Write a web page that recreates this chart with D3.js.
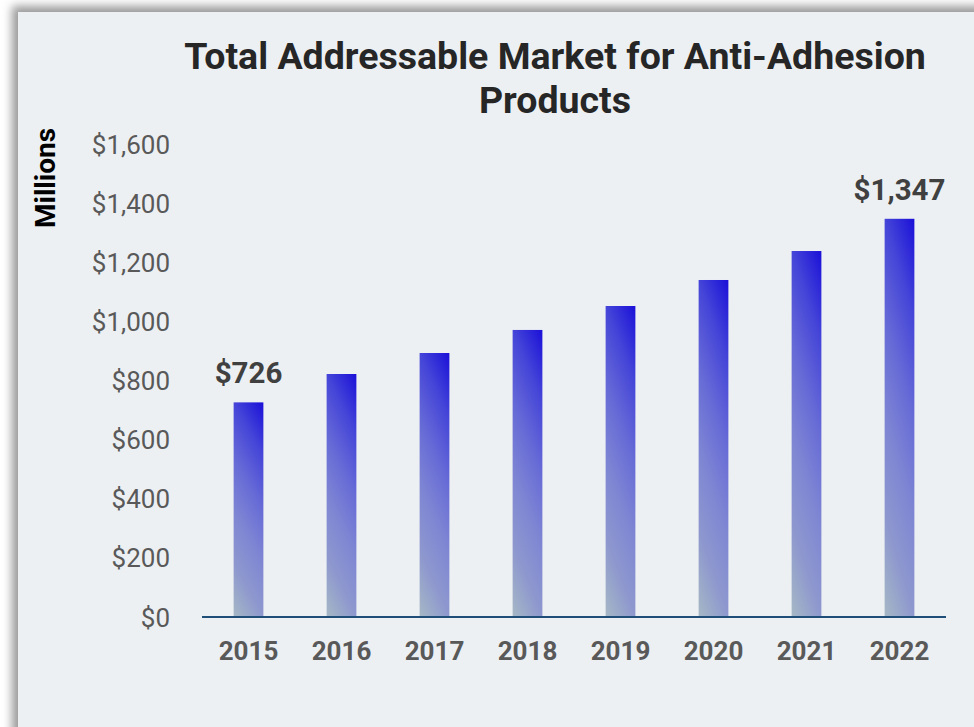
<!DOCTYPE html>
<html>
<head>
<meta charset="utf-8">
<script src="https://cdn.jsdelivr.net/npm/d3@7"></script>
<style>
  html, body { margin: 0; padding: 0; background: #ffffff; }
  svg { display: block; font-family: Roboto, "Noto Sans", sans-serif; }
</style>
</head>
<body>
<svg id="chart" width="974" height="727"></svg>
<script>
// Market size by year, in millions of dollars
const years = ["2015", "2016", "2017", "2018", "2019", "2020", "2021", "2022"];
const marketValues = [726, 822, 893, 971, 1052, 1140, 1238, 1347];
const yTicks = [0, 200, 400, 600, 800, 1000, 1200, 1400, 1600];
const labelledYears = ["2015", "2022"];
const titleLines = ["Total Addressable Market for Anti-Adhesion", "Products"];
const yAxisTitle = "Millions";

const svg = d3.select("#chart");
const defs = svg.append("defs");

// soft shadow behind the card
const shadow = defs.append("filter").attr("id", "cardShadow")
  .attr("x", "-10%").attr("y", "-10%").attr("width", "120%").attr("height", "120%");
shadow.append("feGaussianBlur").attr("stdDeviation", 5);

// diagonal blue fade used by every bar: grey-blue at bottom-left, deep blue at top-right
const grad = defs.append("linearGradient").attr("id", "barFill")
  .attr("x1", 0).attr("y1", 1).attr("x2", 0.294).attr("y2", -0.176);
[[0, "#a6b8c5"], [0.2, "#8e98ce"], [0.4, "#7e86d3"], [0.6, "#666ad6"], [0.8, "#4545d8"], [1, "#1a10d8"]]
  .forEach(([o, c]) => grad.append("stop").attr("offset", o).attr("stop-color", c));

// card
svg.append("rect").attr("x", 12).attr("y", 6).attr("width", 1000).attr("height", 760)
  .attr("fill", "#9a9a9a").attr("filter", "url(#cardShadow)");
svg.append("rect").attr("x", 18).attr("y", 12).attr("width", 1000).attr("height", 760)
  .attr("fill", "#edf0f3");

// title
const title = svg.append("text").attr("text-anchor", "middle")
  .attr("font-size", 37.5).attr("font-weight", 700).attr("fill", "#262626");
titleLines.forEach((t, i) => {
  title.append("tspan").attr("x", 555).attr("y", 69 + i * 44).text(t);
});

// scales
const x = d3.scaleBand().domain(years).range([202, 946]).paddingInner(0.68).paddingOuter(0.34);
const y = d3.scaleLinear().domain([0, 1600]).range([617, 144]);

// y axis labels
const yAxis = d3.axisLeft(y).tickValues(yTicks)
  .tickFormat(d => "$" + d3.format(",")(d)).tickSize(0).tickPadding(0);
const yG = svg.append("g").attr("transform", "translate(170,0)").call(yAxis);
yG.select(".domain").remove();
yG.selectAll("text").attr("font-size", 26).attr("fill", "#595959")
  .attr("font-family", "Roboto, sans-serif").attr("dy", "0.35em");

svg.append("text").attr("transform", "translate(55,178) rotate(-90)")
  .attr("text-anchor", "middle").attr("font-size", 28).attr("font-weight", 700)
  .attr("fill", "#000").text(yAxisTitle);

// bars
svg.append("g").selectAll("rect").data(years).join("rect")
  .attr("x", d => x(d)).attr("width", x.bandwidth())
  .attr("y", (d, i) => y(marketValues[i]))
  .attr("height", (d, i) => y(0) - y(marketValues[i]))
  .attr("fill", "url(#barFill)");

// baseline
svg.append("line").attr("x1", 202).attr("x2", 946).attr("y1", y(0)).attr("y2", y(0))
  .attr("stroke", "#1f4e79").attr("stroke-width", 2);

// x axis labels
const xAxis = d3.axisBottom(x).tickSize(0).tickPadding(0);
const xG = svg.append("g").attr("transform", `translate(0,${y(0)})`).call(xAxis);
xG.select(".domain").remove();
xG.selectAll("text").attr("font-size", 26).attr("font-weight", 700).attr("fill", "#595959")
  .attr("font-family", "Roboto, sans-serif").attr("dy", 0).attr("y", 43);

// value labels on first and last bars
svg.append("g").selectAll("text").data(labelledYears).join("text")
  .attr("x", d => x(d) + x.bandwidth() / 2)
  .attr("y", d => y(marketValues[years.indexOf(d)]) - 19)
  .attr("text-anchor", "middle").attr("font-size", 29.5).attr("font-weight", 700)
  .attr("fill", "#404040")
  .text(d => "$" + d3.format(",")(marketValues[years.indexOf(d)]));
</script>
</body>
</html>
